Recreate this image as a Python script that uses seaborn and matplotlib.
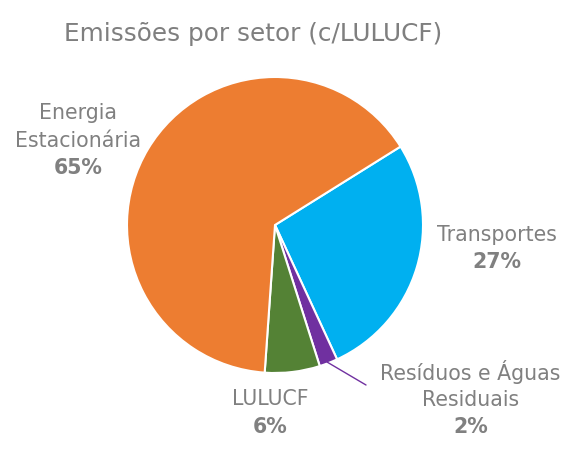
import matplotlib
matplotlib.use("Agg")
import matplotlib.pyplot as plt
import seaborn as sns

# Emissions share by sector (with LULUCF)
sectors = ["Transportes", "Resíduos e Águas\nResiduais", "LULUCF", "Energia\nEstacionária"]
shares = [27, 2, 6, 65]
colors = ["#00B0F0", "#7030A0", "#548235", "#ED7D31"]

sns.set_theme(style="white")
plt.rcParams['font.family'] = ['DejaVu Sans']

fig = plt.figure(figsize=(5.69, 4.57), dpi=100)
# axes box = pie diameter, centre at (275, 225) px, radius ~148 px
cx, cy, r = 275 / 569, 1 - 225 / 457, 148
ax = fig.add_axes([cx - r / 569, cy - r / 457, 2 * r / 569, 2 * r / 457])

wedges, _ = ax.pie(shares, colors=colors, startangle=32, counterclock=False,
                   radius=1, wedgeprops=dict(edgecolor="white", linewidth=1.5))
ax.set_xlim(-1, 1)
ax.set_ylim(-1, 1)
ax.axis("off")

grey = "#808080"
# label block centres in data units (radius = 1)
label_pos = [(1.50, -0.16), (1.32, -1.18), (-0.03, -1.27), (-1.33, 0.57)]
lh = 27.5 / 148
for name, val, (x, y) in zip(sectors, shares, label_pos):
    lines = name.split("\n") + [f"{val}%"]
    top = y + lh * len(lines) / 2
    for i, line in enumerate(lines):
        bold = i == len(lines) - 1
        ax.text(x, top - lh * (i + 0.5), line, ha="center", va="center",
                fontsize=14.8, color=grey, fontweight="bold" if bold else "normal",
                clip_on=False)

# leader line for the small slice
ax.plot([(327 - 275) / 148, (366 - 275) / 148], [(225 - 362) / 148, (225 - 385) / 148],
        color="#7030A0", lw=1, clip_on=False)

fig.text(253 / 569, 1 - 34 / 457, "Emissões por setor (c/LULUCF)", ha="center",
         va="center", fontsize=17.8, color="#7F7F7F")

fig.savefig("out.png", dpi=100, facecolor="white")
